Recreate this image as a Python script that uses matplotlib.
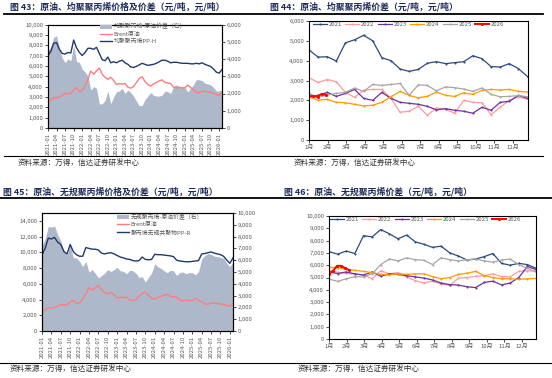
import numpy as np
import matplotlib
matplotlib.use('Agg')
import matplotlib.pyplot as plt
from matplotlib.lines import Line2D
from matplotlib.patches import Patch
from matplotlib.ticker import FuncFormatter, MultipleLocator

plt.rcParams['font.family'] = ['Noto Sans CJK SC', 'DejaVu Sans']

# ---- monthly prices, 2021-01 .. 2026-02 (yuan/ton) ----
brent = [2500, 2700, 2950, 2900, 3000, 3150, 3350, 3300, 3350, 3700, 3900, 3500,
         3600, 4050, 4700, 5500, 5200, 5500, 5800, 5200, 4900, 4700, 4900, 4600,
         4200, 4300, 4250, 4300, 3950, 3850, 4000, 4400, 4800, 4950, 4500, 4200,
         4050, 4250, 4400, 4550, 4650, 4400, 4350, 4300, 3950, 3850, 3950, 3850,
         3900, 4150, 3900, 3700, 3450, 3400, 3550, 3550, 3500, 3450, 3350, 3250,
         3150, 3450]
pp_h = [7000, 7400, 8200, 8250, 7600, 7200, 7150, 7300, 7250, 8500, 7750, 7300,
        7000, 7300, 7700, 7700, 7600, 7800, 7200, 6600, 6500, 6850, 6300, 6400,
        6300, 6450, 6550, 6300, 6150, 5900, 5850, 5950, 6100, 6250, 6150, 6050,
        6100, 6150, 6250, 6400, 6550, 6550, 6450, 6300, 6350, 6350, 6300, 6250,
        6250, 6250, 6200, 6200, 6250, 6200, 6300, 6150, 6050, 5950, 5700, 5400,
        5300, 5650]
pp_r = [9700, 10500, 11800, 11700, 11900, 11300, 11000, 10100, 9800, 11000, 10100, 9700,
        9500, 9500, 10600, 10500, 10400, 10400, 10300, 9900, 9800, 9900, 9950, 9800,
        9600, 9400, 9300, 9150, 9100, 8950, 8900, 8950, 9400, 9100, 9050, 9100,
        9750, 9700, 9700, 9650, 9600, 9550, 9450, 9000, 8900, 8850, 8800, 8800,
        8850, 8900, 8950, 9800, 9850, 9950, 10050, 9900, 9800, 9700, 9500, 9000,
        8600, 9300]

# ---- PP-H minus crude spread by year (about twice a month) ----
h_2021 = [4540, 4180, 4200, 3980, 4900, 5050, 5280, 5000, 4150, 4000, 3580, 3460, 3560,
          3870, 3950, 3850, 3900, 3950, 4250, 4100, 3700, 3680, 3850, 3600, 3200]
h_2022 = [3140, 2900, 3050, 2940, 2400, 2150, 2500, 2550, 2550, 2100, 1400, 1450, 1700,
          1250, 1620, 1550, 1350, 2000, 1900, 1880, 1280, 1650, 2000, 2180, 2050]
h_2023 = [2200, 2250, 2400, 2200, 2350, 2550, 2100, 2000, 2400, 2100, 1900, 1850, 1800,
          1700, 1520, 1580, 1500, 1450, 1350, 1650, 1500, 1900, 1950, 2250, 2100]
h_2024 = [2180, 2000, 2050, 1900, 1880, 1800, 1720, 1750, 1900, 2180, 2450, 2250, 2130,
          2200, 2420, 2250, 2200, 2380, 2300, 2500, 2550, 2520, 2550, 2450, 2420]
h_2025 = [2350, 2150, 2270, 2350, 2400, 2620, 2450, 2800, 2750, 2800, 2850, 2250, 2780,
          2750, 2480, 2680, 2640, 2570, 2450, 2620, 2300, 2180, 2200, 2240, 2180]
h_2026 = [2230, 2200, 2180, 2330, 2280]  # weekly

# ---- PP-R minus crude spread by year ----
r_2021 = [7100, 6900, 7150, 6950, 8400, 8300, 8900, 8550, 8150, 8450, 7900, 7700, 7450,
          7550, 7000, 6750, 6420, 6500, 6700, 6950, 6150, 6000, 6150, 6050, 5750]
r_2022 = [5600, 5420, 5340, 5260, 5200, 4900, 5550, 5300, 5400, 5050, 4750, 4550, 4700,
          4480, 4350, 4950, 5000, 5100, 5150, 5300, 5070, 5050, 5500, 5550, 5500]
r_2023 = [5450, 5320, 5450, 5300, 5200, 5450, 5100, 5300, 5250, 5150, 5050, 4950, 4800,
          4550, 4420, 4380, 4250, 4180, 4600, 4700, 4400, 4550, 5000, 5900, 5650]
r_2024 = [5850, 5780, 5680, 5580, 5500, 5400, 5250, 5200, 5300, 5250, 5300, 5300, 5080,
          4900, 5000, 5250, 5350, 5500, 5150, 5000, 4900, 4900, 4850, 4900, 4920]
r_2025 = [4880, 4680, 4900, 5070, 5050, 5300, 6050, 6500, 6350, 6600, 6450, 6400, 6050,
          6600, 6450, 6350, 6450, 6500, 6350, 6250, 6420, 6500, 6050, 5750, 5450]
r_2026 = [5300, 5550, 5950, 5950, 5750, 5600]  # weekly

years = ['2021', '2022', '2023', '2024', '2025', '2026']
year_colors = ['#2E4A7D', '#FF9A9E', '#7030A0', '#FF9900', '#A6A6A6', '#FF0000']
month_labels = [f'{i}月' for i in range(1, 13)]
date_labels = [f'{2021 + k // 12}-{k % 12 + 1:02d}' for k in range(0, 61, 3)]

W, H = 552, 378
fig = plt.figure(figsize=(W / 100, H / 100), dpi=100)
GRAY = '#595959'
NAVY = '#1F2D5A'
fmt = FuncFormatter(lambda v, p: f'{int(v):,}')


def rect(l, r, t, b):
    return [l / W, 1 - b / H, (r - l) / W, (b - t) / H]


def style(ax):
    for s in ax.spines.values():
        s.set_linewidth(0.8)
        s.set_color('black')
    ax.tick_params(labelsize=4.3, labelcolor=GRAY, length=2, width=0.5, pad=1.5)
    ax.yaxis.set_major_formatter(fmt)


def price_chart(r, pp, pp_label, spread_label, ymax_l, step_l, ymax_r, step_r, leg_xy):
    ax = fig.add_axes(rect(*r))
    ax2 = ax.twinx()
    x = np.arange(len(pp))
    spread = np.array(pp) - np.array(brent)
    ax2.fill_between(x, spread, color='#ADB9CA', lw=0)
    ax.plot(x, brent, color='#FF7C80', lw=1.0)
    ax.plot(x, pp, color='#213A6B', lw=1.0)
    ax.set_zorder(ax2.get_zorder() + 1)
    ax.patch.set_visible(False)
    ax.set_xlim(0, len(pp) - 1)
    ax.set_ylim(0, ymax_l)
    ax.yaxis.set_major_locator(MultipleLocator(step_l))
    ax2.set_ylim(0, ymax_r)
    ax2.yaxis.set_major_locator(MultipleLocator(step_r))
    ax.set_xticks(range(0, 61, 3))
    ax.set_xticklabels(date_labels, rotation=90)
    style(ax)
    style(ax2)
    handles = [Patch(color='#ADB9CA', lw=0),
               Line2D([], [], color='#FF7C80', lw=1.0),
               Line2D([], [], color='#213A6B', lw=1.0)]
    fig.legend(handles, [spread_label, 'Brent原油', pp_label], loc='upper left',
               bbox_to_anchor=(leg_xy[0] / W, 1 - leg_xy[1] / H), frameon=False,
               fontsize=4.2, handlelength=2.0, handleheight=0.7, handletextpad=0.3,
               labelspacing=0.35, borderpad=0, borderaxespad=0, labelcolor=GRAY)


def year_chart(r, series, ymax, leg_xy):
    ax = fig.add_axes(rect(*r))
    xmax = 11.8
    for label, vals, color in zip(years, series, year_colors):
        if label == '2026':
            x = np.arange(len(vals)) * xmax / 51
            ax.plot(x, vals, color=color, lw=1.4, marker='o', ms=2.2, mew=0, label=label)
        else:
            x = np.linspace(0, xmax, len(vals))
            ax.plot(x, vals, color=color, lw=0.9, marker='o', ms=1.5, mew=0, label=label)
    ax.set_xlim(0, xmax)
    ax.set_ylim(0, ymax)
    ax.yaxis.set_major_locator(MultipleLocator(1000))
    ax.set_xticks(range(12))
    ax.set_xticklabels(month_labels)
    style(ax)
    ax.legend(loc='upper left', bbox_to_anchor=(leg_xy[0] / W, 1 - leg_xy[1] / H),
              bbox_transform=fig.transFigure, ncol=6, frameon=False, fontsize=4.3,
              handlelength=2.3, handletextpad=0.3, columnspacing=0.6, borderpad=0,
              borderaxespad=0, labelcolor=GRAY)


price_chart((48, 222, 24.5, 128), pp_h, '均聚聚丙烯PP-H', '均聚聚丙烯-原油价差（右）',
            10000, 1000, 6000, 1000, (100, 23.5))
year_chart((309, 527.5, 21, 140), [h_2021, h_2022, h_2023, h_2024, h_2025, h_2026],
           6000, (313, 22))
price_chart((42, 233, 213, 331), pp_r, '聚丙烯无规共聚物PP-R', '无规聚丙烯-原油价差（右）',
            15000, 2000, 10000, 1000, (117, 214))
year_chart((329, 536, 216, 339), [r_2021, r_2022, r_2023, r_2024, r_2025, r_2026],
           10000, (330, 217))

# titles, rules and source notes
titles = [(10, 7, '图 43：原油、均聚聚丙烯价格及价差（元/吨，元/吨）'),
          (270, 7, '图 44：原油、均聚聚丙烯价差（元/吨，元/吨）'),
          (3, 192, '图 45：原油、无规聚丙烯价格及价差（元/吨，元/吨）'),
          (284, 192, '图 46：原油、无规聚丙烯价差（元/吨，元/吨）')]
for x, y, s in titles:
    fig.text(x / W, 1 - y / H, s, fontsize=6.4, weight='bold', color=NAVY, va='center')

for y, x0, x1, lw in [(14, 4, 543, 1.3), (156, 4, 543, 0.8),
                      (198, 0, 552, 1.3), (363, 0, 552, 0.8)]:
    fig.add_artist(Line2D([x0 / W, x1 / W], [1 - y / H, 1 - y / H], color='black',
                          lw=lw, transform=fig.transFigure))

for x, y in [(18, 163), (294, 163), (10, 369), (298, 369)]:
    fig.text(x / W, 1 - y / H, '资料来源：万得，信达证券研发中心', fontsize=5.5,
             color='#333333', va='center', style='italic')

fig.savefig('out.png', dpi=100)
